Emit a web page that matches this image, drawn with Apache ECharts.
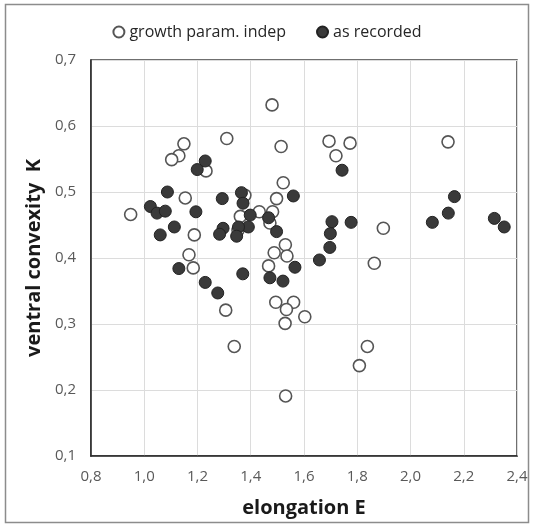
<!DOCTYPE html>
<html>
<head>
<meta charset="utf-8">
<script src="https://cdn.jsdelivr.net/npm/echarts@6/dist/echarts.min.js"></script>
<style>
  html, body { margin: 0; padding: 0; background: #fff; }
  #chart { width: 534px; height: 527px; }
</style>
</head>
<body>
<div id="chart"></div>
<script>
// growth param. indep (open circles): [E, K]
var growthIndep = [
  [1.480, 0.632], [1.310, 0.581], [1.514, 0.569], [1.149, 0.573], [1.130, 0.555],
  [1.103, 0.549], [1.232, 0.532], [1.522, 0.514], [1.154, 0.491], [1.497, 0.490],
  [0.949, 0.466], [1.432, 0.470], [1.482, 0.470], [1.361, 0.463], [1.472, 0.453],
  [1.188, 0.435], [1.168, 0.405], [1.530, 0.420], [1.488, 0.408], [1.536, 0.403],
  [1.184, 0.385], [1.467, 0.388], [1.306, 0.321], [1.338, 0.266], [1.494, 0.333],
  [1.561, 0.333], [1.534, 0.322], [1.529, 0.301], [1.531, 0.191], [1.603, 0.311],
  [1.694, 0.577], [1.773, 0.574], [1.720, 0.555], [2.141, 0.576], [1.898, 0.445],
  [1.864, 0.392], [1.838, 0.266], [1.808, 0.237], [1.378, 0.495], [1.352, 0.442]
];

// as recorded (filled circles): [E, K]
var asRecorded = [
  [1.229, 0.547], [1.199, 0.534], [1.087, 0.500], [1.560, 0.494], [1.365, 0.499],
  [1.371, 0.483], [1.293, 0.490], [1.023, 0.478], [1.048, 0.468], [1.079, 0.471],
  [1.194, 0.470], [1.398, 0.465], [1.467, 0.461], [1.113, 0.447], [1.391, 0.447],
  [1.354, 0.447], [1.497, 0.440], [1.296, 0.445], [1.283, 0.436], [1.347, 0.433],
  [1.060, 0.435], [1.743, 0.533], [2.165, 0.493], [2.142, 0.468], [2.082, 0.454],
  [2.315, 0.460], [2.352, 0.447], [1.705, 0.455], [1.777, 0.454], [1.699, 0.437],
  [1.697, 0.416], [1.658, 0.397], [1.130, 0.384], [1.370, 0.376], [1.229, 0.363],
  [1.276, 0.347], [1.472, 0.370], [1.521, 0.365], [1.566, 0.386]
];

var seriesNames = ['growth param. indep', 'as recorded'];

var fontFam = '"Open Sans", "Liberation Sans", sans-serif';
function comma(v) {
  return v.toFixed(1).replace('.', ',');
}

var chart = echarts.init(document.getElementById('chart'));

var option = {
  animation: false,
  backgroundColor: '#ffffff',
  textStyle: { fontFamily: fontFam },
  graphic: [{
    type: 'rect',
    silent: true,
    shape: { x: 5.5, y: 4.5, width: 523, height: 518 },
    style: { fill: 'none', stroke: '#8c8c8c', lineWidth: 1.5 }
  }],
  legend: {
    top: 19,
    left: 'center',
    itemGap: 30,
    itemWidth: 11,
    itemHeight: 11,
    icon: 'circle',
    textStyle: { fontSize: 16, color: '#262626', fontFamily: fontFam },
    data: seriesNames
  },
  grid: {
    left: 91,
    right: 17,
    top: 60,
    bottom: 71,
    show: true,
    borderColor: '#404040',
    borderWidth: 1.5
  },
  xAxis: {
    type: 'value',
    min: 0.8,
    max: 2.4,
    interval: 0.2,
    name: 'elongation E',
    nameLocation: 'middle',
    nameGap: 42,
    nameTextStyle: { fontSize: 20, fontWeight: 'bold', color: '#1a1a1a', fontFamily: fontFam },
    axisLine: { show: true, onZero: false, lineStyle: { color: '#262626', width: 1.5 } },
    axisTick: { show: false },
    axisLabel: { margin: 13, fontSize: 15, color: '#595959', formatter: comma },
    splitLine: { show: true, lineStyle: { color: '#dcdcdc', width: 1 } }
  },
  yAxis: {
    type: 'value',
    min: 0.1,
    max: 0.7,
    interval: 0.1,
    name: 'ventral convexity  K',
    nameLocation: 'middle',
    nameGap: 38,
    nameTextStyle: { fontSize: 20, fontWeight: 'bold', color: '#1a1a1a', fontFamily: fontFam },
    axisLine: { show: true, onZero: false, lineStyle: { color: '#262626', width: 1.5 } },
    axisTick: { show: false },
    axisLabel: { margin: 15, fontSize: 15, color: '#595959', formatter: comma },
    splitLine: { show: true, lineStyle: { color: '#dcdcdc', width: 1 } }
  },
  series: [{
    name: seriesNames[0],
    type: 'scatter',
    symbol: 'circle',
    symbolSize: 12,
    data: growthIndep,
    itemStyle: { color: '#ffffff', borderColor: '#555555', borderWidth: 1.6, opacity: 1 },
    z: 2
  }, {
    name: seriesNames[1],
    type: 'scatter',
    symbol: 'circle',
    symbolSize: 12,
    data: asRecorded,
    itemStyle: { color: '#3a3a3a', borderColor: '#222222', borderWidth: 1, opacity: 1 },
    z: 3
  }]
};

chart.setOption(option);
</script>
</body>
</html>
